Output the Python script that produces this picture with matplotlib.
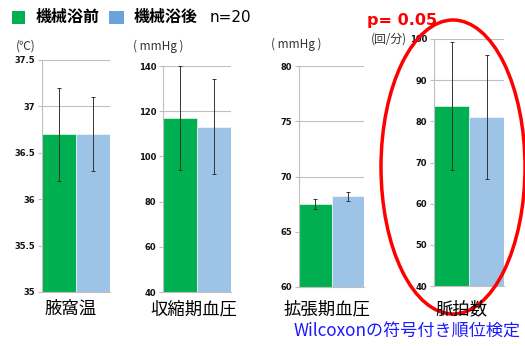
import matplotlib
matplotlib.use("Agg")
import matplotlib.pyplot as plt
from matplotlib.patches import Ellipse, Rectangle

plt.rcParams['font.family'] = ['Noto Sans CJK JP', 'DejaVu Sans']

categories = ["腋窩温", "収縮期血圧", "拡張期血圧", "脈拍数"]
series_names = ["機械浴前", "機械浴後"]
before_mean = [36.7, 117.0, 67.5, 83.7]
before_err = [0.5, 23.0, 0.42, 15.5]
after_mean = [36.7, 113.2, 68.2, 81.1]
after_err = [0.4, 21.2, 0.43, 15.0]
units = ["(℃)", "( mmHg )", "( mmHg )", "(回/分)"]
ylims = [(35, 37.5), (40, 140), (60, 80), (40, 100)]
yticks = [[35, 35.5, 36, 36.5, 37, 37.5], [40, 60, 80, 100, 120, 140],
          [60, 65, 70, 75, 80], [40, 50, 60, 70, 80, 90, 100]]
yticklabels = [["35", "35.5", "36", "36.5", "37", "37.5"],
               ["40", "60", "80", "100", "120", "140"],
               ["60", "65", "70", "75", "80"],
               ["40", "50", "60", "70", "80", "90", "100"]]

W, H = 525, 346
fig = plt.figure(figsize=(W / 100, H / 100), dpi=100)
fig.patch.set_facecolor("white")

green = "#00B050"
blue = "#9DC3E6"

# axes boxes in pixels: (x0, x1, ytop, ybottom)
boxes = [(42, 110, 60, 292), (163, 231, 66, 292), (299, 364, 66, 287), (434, 504, 39, 286)]
unit_pos = [(26, 46), (158, 46), (296, 44), (389, 39)]
cat_x = [71, 194, 327, 461]

for i, (x0, x1, yt, yb) in enumerate(boxes):
    ax = fig.add_axes([x0 / W, 1 - yb / H, (x1 - x0) / W, (yb - yt) / H])
    ax.set_axisbelow(True)
    ax.grid(axis="y", color="#bfbfbf", linewidth=0.8)
    ax.bar([0], [before_mean[i]], width=1.0, color=green, edgecolor="white", linewidth=0.4,
           yerr=[before_err[i]], error_kw=dict(ecolor="#333333", elinewidth=0.7, capsize=1.5, capthick=0.7))
    ax.bar([1], [after_mean[i]], width=1.0, color=blue, edgecolor="white", linewidth=0.4,
           yerr=[after_err[i]], error_kw=dict(ecolor="#333333", elinewidth=0.7, capsize=1.5, capthick=0.7))
    ax.set_xlim(-0.5, 1.5)
    ax.set_ylim(*ylims[i])
    ax.set_yticks(yticks[i])
    ax.set_yticklabels(yticklabels[i], fontsize=6, fontweight="bold", family="DejaVu Sans",
                       color="#111111")
    ax.set_xticks([])
    for s in ["top", "right"]:
        ax.spines[s].set_visible(False)
    ax.spines["left"].set_color("#bfbfbf")
    ax.spines["bottom"].set_color("#bfbfbf")
    ax.tick_params(axis="y", length=3, color="#bfbfbf", pad=2)
    fig.text(unit_pos[i][0] / W, 1 - unit_pos[i][1] / H, units[i], fontsize=8.5,
             ha="center", va="center", color="#333333")
    fig.text(cat_x[i] / W, 1 - 309 / H, categories[i], fontsize=12.5,
             ha="center", va="center", color="black")

# legend
fig.add_artist(Rectangle((12 / W, 1 - 24 / H), 13 / W, 13 / H, transform=fig.transFigure,
                         facecolor=green, edgecolor="none"))
fig.text(36 / W, 1 - 17 / H, series_names[0], fontsize=11.5, fontweight="bold", ha="left", va="center")
fig.add_artist(Rectangle((109 / W, 1 - 24 / H), 15 / W, 13 / H, transform=fig.transFigure,
                         facecolor="#6AA3DC", edgecolor="none"))
fig.text(134 / W, 1 - 17 / H, series_names[1], fontsize=11.5, fontweight="bold", ha="left", va="center")
fig.text(210 / W, 1 - 18 / H, "n=20", fontsize=11, ha="left", va="center", family="DejaVu Sans")

# p-value & ellipse
fig.text(367 / W, 1 - 20 / H, "p= 0.05", fontsize=11.5, fontweight="bold", color="red",
         ha="left", va="center", family="DejaVu Sans")
fig.add_artist(Ellipse((453 / W, 1 - 167 / H), 144 / W, 294 / H, transform=fig.transFigure,
                       facecolor="none", edgecolor="red", linewidth=2.5))

fig.text(521 / W, 1 - 332 / H, "Wilcoxonの符号付き順位検定", fontsize=12.3, color="#1a1aff",
         ha="right", va="center")

fig.savefig("out.png", dpi=100)
